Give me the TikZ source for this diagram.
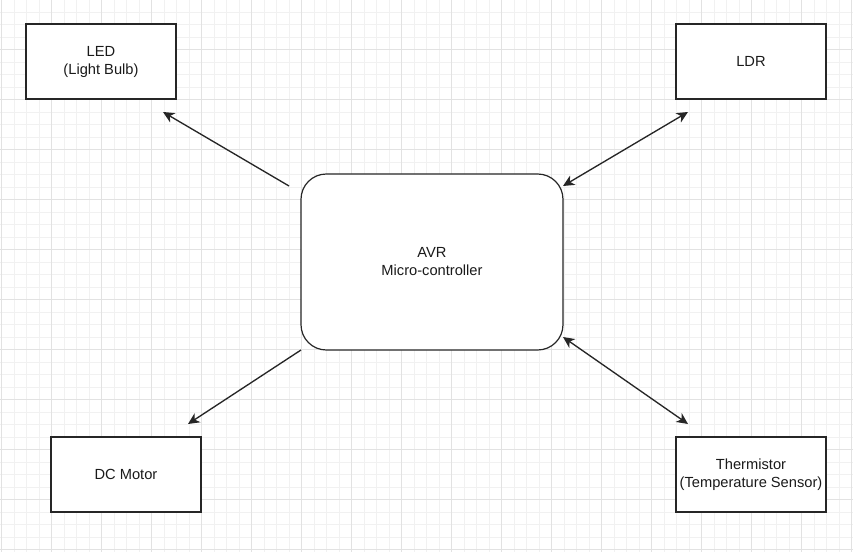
\documentclass[tikz,border=0pt]{standalone}
\usepackage{fontspec}
\setmainfont{Liberation Sans}
\usetikzlibrary{arrows.meta}
\definecolor{gridminor}{HTML}{F1F1F1}
\definecolor{gridmajor}{HTML}{E2E2E2}
\definecolor{stroke}{HTML}{262626}
\definecolor{txt}{HTML}{1A1A1A}
\begin{document}
\begin{tikzpicture}[x=0.75pt,y=-0.75pt,
  box/.style={draw=stroke,line width=0.9pt,fill=white,minimum width=112.5pt,minimum height=56.25pt,align=center,font=\fontsize{11}{13.5}\selectfont,text=txt,inner sep=0pt},
  mcu/.style={draw=stroke,line width=0.9pt,fill=white,rounded corners=19pt,minimum width=196.5pt,minimum height=132pt,align=center,font=\fontsize{11}{13.5}\selectfont,text=txt},
  tip/.style={Stealth[length=8.5pt,width=8pt,inset=2.5pt]},
  conn/.style={draw=stroke,line width=1pt,-{Stealth[length=8.5pt,width=8pt,inset=2.5pt]}},
  bconn/.style={draw=stroke,line width=1pt,{Stealth[length=8.5pt,width=8pt,inset=2.5pt]}-{Stealth[length=8.5pt,width=8pt,inset=2.5pt]}}]
\useasboundingbox (0,0) rectangle (853,552);
\fill[white] (0,0) rectangle (853,552);
\foreach \x in {1.7,14.2,...,853} \draw[gridminor,line width=0.6pt] (\x,0) -- (\x,552);
\foreach \y in {-0.5,12,...,552} \draw[gridminor,line width=0.6pt] (0,\y) -- (853,\y);
\foreach \x in {1.7,51.7,...,853} \draw[gridmajor,line width=0.6pt] (\x,0) -- (\x,552);
\foreach \y in {-0.5,49.5,...,552} \draw[gridmajor,line width=0.6pt] (0,\y) -- (853,\y);

\node[box] (led) at (101,61.5) {LED\\(Light Bulb)};
\node[box] (ldr) at (751,61.5) {LDR};
\node[box] (dc) at (126,474.5) {DC Motor};
\node[box] (th) at (751,474.5) {Thermistor\\(Temperature Sensor)};
\node[mcu] (avr) at (432,262) {AVR\\Micro-controller};

\coordinate (ledS) at (289,186);
\coordinate (ledE) at (163,112);
\coordinate (ldrS) at (563,186);
\coordinate (ldrE) at (688,112);
\coordinate (thS) at (563,337);
\coordinate (thE) at (688,424);
\coordinate (dcS) at (301,350);
\coordinate (dcE) at (188,424);

\draw[conn] (ledS) -- (ledE);
\draw[bconn] (ldrS) -- (ldrE);
\draw[bconn] (thS) -- (thE);
\draw[conn] (dcS) -- (dcE);
\end{tikzpicture}
\end{document}
